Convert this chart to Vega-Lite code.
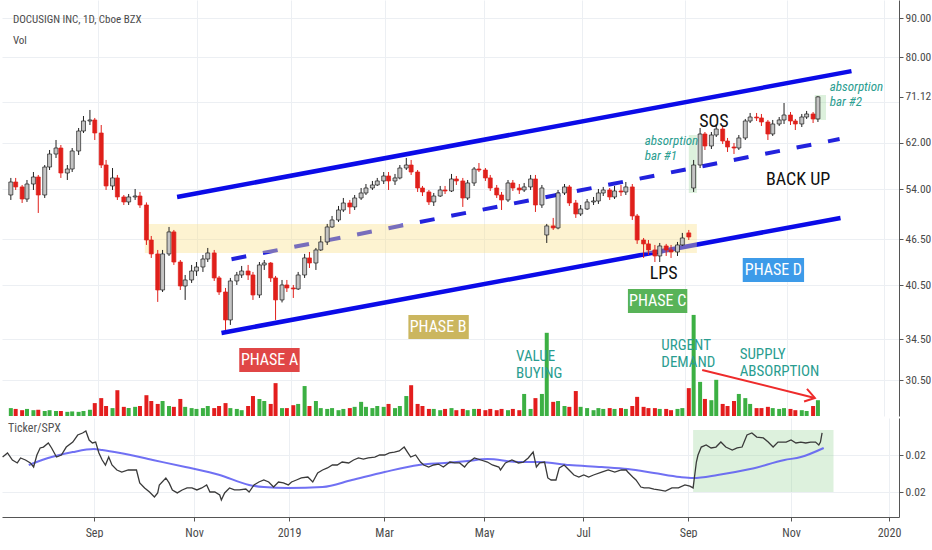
{
  "$schema": "https://vega.github.io/schema/vega-lite/v6.json",
  "description": "DOCUSIGN INC daily candles with Wyckoff phases and Ticker/SPX ratio",
  "padding": 0,
  "background": "white",
  "spacing": 2,
  "config": {
    "view": {"stroke": null},
    "font": "Roboto Condensed, Liberation Sans, sans-serif",
    "axis": {
      "labelFont": "Roboto Condensed, Liberation Sans, sans-serif",
      "labelFontSize": 11.5,
      "labelColor": "#4a4a4a",
      "gridColor": "#eceff3",
      "domainColor": "#555555",
      "tickColor": "#555555",
      "tickSize": 4
    }
  },
  "datasets": {
    "candles": [
      {"d": "2018-07-09", "o": 53.06, "h": 55.83, "l": 52.28, "c": 55.16, "v": 1.9},
      {"d": "2018-07-12", "o": 55.16, "h": 55.83, "l": 53.86, "c": 54.35, "v": 1.7},
      {"d": "2018-07-16", "o": 54.35, "h": 54.67, "l": 51.81, "c": 52.43, "v": 1.4},
      {"d": "2018-07-19", "o": 52.43, "h": 55.49, "l": 51.97, "c": 54.83, "v": 1.7},
      {"d": "2018-07-23", "o": 54.83, "h": 56.83, "l": 53.86, "c": 55.99, "v": 1.4},
      {"d": "2018-07-26", "o": 55.99, "h": 56.33, "l": 50.29, "c": 53.06, "v": 1.5},
      {"d": "2018-07-30", "o": 53.06, "h": 58.03, "l": 52.59, "c": 57.68, "v": 1.2},
      {"d": "2018-08-02", "o": 57.68, "h": 60.69, "l": 57.17, "c": 59.97, "v": 1.4},
      {"d": "2018-08-06", "o": 59.97, "h": 62.53, "l": 59.26, "c": 61.05, "v": 1.2},
      {"d": "2018-08-09", "o": 61.05, "h": 61.60, "l": 55.83, "c": 56.66, "v": 1.2},
      {"d": "2018-08-13", "o": 56.66, "h": 58.03, "l": 55.49, "c": 57.34, "v": 1.0},
      {"d": "2018-08-16", "o": 57.34, "h": 61.05, "l": 56.83, "c": 60.51, "v": 1.1},
      {"d": "2018-08-20", "o": 60.51, "h": 64.81, "l": 59.79, "c": 64.23, "v": 1.0},
      {"d": "2018-08-23", "o": 64.23, "h": 67.17, "l": 63.85, "c": 66.18, "v": 1.2},
      {"d": "2018-08-27", "o": 66.18, "h": 68.39, "l": 65.39, "c": 66.38, "v": 1.5},
      {"d": "2018-08-30", "o": 66.38, "h": 66.78, "l": 62.53, "c": 63.85, "v": 3.1},
      {"d": "2018-09-03", "o": 63.85, "h": 65.39, "l": 57.51, "c": 58.03, "v": 4.3},
      {"d": "2018-09-06", "o": 58.03, "h": 58.91, "l": 53.86, "c": 54.51, "v": 2.4},
      {"d": "2018-09-10", "o": 54.51, "h": 57.51, "l": 53.86, "c": 55.83, "v": 1.9},
      {"d": "2018-09-13", "o": 55.83, "h": 56.33, "l": 52.28, "c": 52.75, "v": 6.2},
      {"d": "2018-09-17", "o": 52.75, "h": 53.06, "l": 51.50, "c": 51.97, "v": 2.2},
      {"d": "2018-09-20", "o": 51.97, "h": 53.22, "l": 51.50, "c": 52.75, "v": 1.9},
      {"d": "2018-09-24", "o": 52.75, "h": 54.02, "l": 52.28, "c": 52.90, "v": 2.2},
      {"d": "2018-09-27", "o": 52.90, "h": 53.54, "l": 51.05, "c": 51.50, "v": 2.4},
      {"d": "2018-10-01", "o": 51.50, "h": 51.90, "l": 45.71, "c": 46.39, "v": 5.0},
      {"d": "2018-10-04", "o": 46.39, "h": 46.95, "l": 43.97, "c": 44.50, "v": 3.6},
      {"d": "2018-10-08", "o": 44.50, "h": 45.03, "l": 38.56, "c": 39.96, "v": 2.9},
      {"d": "2018-10-11", "o": 39.96, "h": 45.03, "l": 39.72, "c": 44.50, "v": 3.6},
      {"d": "2018-10-15", "o": 44.50, "h": 48.23, "l": 44.23, "c": 47.52, "v": 2.4},
      {"d": "2018-10-18", "o": 47.52, "h": 47.80, "l": 43.06, "c": 43.44, "v": 2.2},
      {"d": "2018-10-22", "o": 43.44, "h": 43.70, "l": 39.96, "c": 40.44, "v": 4.1},
      {"d": "2018-10-25", "o": 40.44, "h": 41.79, "l": 38.79, "c": 41.17, "v": 2.2},
      {"d": "2018-10-29", "o": 41.17, "h": 43.06, "l": 40.81, "c": 42.29, "v": 1.9},
      {"d": "2018-11-01", "o": 42.29, "h": 43.44, "l": 41.67, "c": 42.80, "v": 1.7},
      {"d": "2018-11-05", "o": 42.80, "h": 44.36, "l": 42.17, "c": 43.83, "v": 1.9},
      {"d": "2018-11-08", "o": 43.83, "h": 45.30, "l": 43.44, "c": 44.63, "v": 2.4},
      {"d": "2018-11-12", "o": 44.63, "h": 45.03, "l": 41.05, "c": 41.42, "v": 1.9},
      {"d": "2018-11-15", "o": 41.42, "h": 41.67, "l": 39.37, "c": 39.72, "v": 2.4},
      {"d": "2018-11-19", "o": 39.72, "h": 40.20, "l": 35.46, "c": 36.54, "v": 3.1},
      {"d": "2018-11-22", "o": 36.54, "h": 41.42, "l": 36.00, "c": 41.05, "v": 1.9},
      {"d": "2018-11-26", "o": 41.05, "h": 42.17, "l": 40.56, "c": 41.79, "v": 1.7},
      {"d": "2018-11-29", "o": 41.79, "h": 42.93, "l": 41.42, "c": 42.29, "v": 1.4},
      {"d": "2018-12-03", "o": 42.29, "h": 43.06, "l": 41.17, "c": 41.79, "v": 2.4},
      {"d": "2018-12-06", "o": 41.79, "h": 42.17, "l": 38.79, "c": 39.37, "v": 4.8},
      {"d": "2018-12-10", "o": 39.37, "h": 43.44, "l": 39.02, "c": 43.06, "v": 4.1},
      {"d": "2018-12-13", "o": 43.06, "h": 43.70, "l": 42.42, "c": 43.31, "v": 3.6},
      {"d": "2018-12-17", "o": 43.31, "h": 43.44, "l": 40.93, "c": 41.42, "v": 2.9},
      {"d": "2018-12-20", "o": 41.42, "h": 41.67, "l": 36.54, "c": 38.79, "v": 7.9},
      {"d": "2018-12-24", "o": 38.79, "h": 41.17, "l": 38.50, "c": 40.56, "v": 1.9},
      {"d": "2018-12-27", "o": 40.56, "h": 41.17, "l": 39.72, "c": 40.20, "v": 1.9},
      {"d": "2018-12-31", "o": 40.20, "h": 40.56, "l": 39.02, "c": 40.08, "v": 2.6},
      {"d": "2019-01-03", "o": 40.08, "h": 42.17, "l": 39.96, "c": 41.79, "v": 2.9},
      {"d": "2019-01-07", "o": 41.79, "h": 44.50, "l": 41.42, "c": 43.97, "v": 7.2},
      {"d": "2019-01-10", "o": 43.97, "h": 44.76, "l": 42.67, "c": 43.31, "v": 2.4},
      {"d": "2019-01-14", "o": 43.31, "h": 45.30, "l": 42.42, "c": 45.03, "v": 3.6},
      {"d": "2019-01-17", "o": 45.03, "h": 46.95, "l": 44.90, "c": 46.12, "v": 1.9},
      {"d": "2019-01-21", "o": 46.12, "h": 48.67, "l": 45.71, "c": 48.23, "v": 1.7},
      {"d": "2019-01-24", "o": 48.23, "h": 49.84, "l": 48.09, "c": 49.25, "v": 1.9},
      {"d": "2019-01-28", "o": 49.25, "h": 51.35, "l": 48.96, "c": 50.74, "v": 1.4},
      {"d": "2019-01-31", "o": 50.74, "h": 52.59, "l": 50.44, "c": 51.81, "v": 1.7},
      {"d": "2019-02-04", "o": 51.81, "h": 52.28, "l": 50.14, "c": 51.20, "v": 1.9},
      {"d": "2019-02-07", "o": 51.20, "h": 53.06, "l": 50.74, "c": 52.59, "v": 2.2},
      {"d": "2019-02-11", "o": 52.59, "h": 54.18, "l": 52.28, "c": 53.38, "v": 3.4},
      {"d": "2019-02-14", "o": 53.38, "h": 54.83, "l": 53.06, "c": 54.18, "v": 2.2},
      {"d": "2019-02-18", "o": 54.18, "h": 55.33, "l": 53.86, "c": 54.67, "v": 1.9},
      {"d": "2019-02-21", "o": 54.67, "h": 55.83, "l": 54.51, "c": 55.33, "v": 2.4},
      {"d": "2019-02-25", "o": 55.33, "h": 56.83, "l": 54.83, "c": 56.16, "v": 2.2},
      {"d": "2019-02-28", "o": 56.16, "h": 56.83, "l": 53.86, "c": 55.33, "v": 2.9},
      {"d": "2019-03-04", "o": 55.33, "h": 56.50, "l": 54.67, "c": 55.83, "v": 1.9},
      {"d": "2019-03-07", "o": 55.83, "h": 58.03, "l": 55.60, "c": 57.51, "v": 2.4},
      {"d": "2019-03-11", "o": 57.51, "h": 59.26, "l": 57.17, "c": 58.03, "v": 4.8},
      {"d": "2019-03-14", "o": 58.03, "h": 58.91, "l": 56.33, "c": 56.83, "v": 7.4},
      {"d": "2019-03-18", "o": 56.83, "h": 57.17, "l": 53.54, "c": 54.18, "v": 2.9},
      {"d": "2019-03-21", "o": 54.18, "h": 54.51, "l": 52.90, "c": 53.54, "v": 2.4},
      {"d": "2019-03-25", "o": 53.54, "h": 53.86, "l": 51.50, "c": 51.97, "v": 1.7},
      {"d": "2019-03-28", "o": 51.97, "h": 53.38, "l": 51.35, "c": 52.90, "v": 1.7},
      {"d": "2019-04-01", "o": 52.90, "h": 54.51, "l": 52.75, "c": 53.86, "v": 1.4},
      {"d": "2019-04-04", "o": 53.86, "h": 54.51, "l": 53.22, "c": 53.70, "v": 1.7},
      {"d": "2019-04-08", "o": 53.70, "h": 56.50, "l": 53.54, "c": 55.66, "v": 1.9},
      {"d": "2019-04-11", "o": 55.66, "h": 56.16, "l": 54.67, "c": 55.33, "v": 1.4},
      {"d": "2019-04-15", "o": 55.33, "h": 55.83, "l": 51.20, "c": 52.59, "v": 1.7},
      {"d": "2019-04-18", "o": 52.59, "h": 55.49, "l": 52.28, "c": 55.00, "v": 1.4},
      {"d": "2019-04-22", "o": 55.00, "h": 57.68, "l": 54.51, "c": 57.34, "v": 1.7},
      {"d": "2019-04-25", "o": 57.34, "h": 58.38, "l": 56.83, "c": 57.17, "v": 1.7},
      {"d": "2019-04-29", "o": 57.17, "h": 57.51, "l": 55.33, "c": 55.83, "v": 1.4},
      {"d": "2019-05-02", "o": 55.83, "h": 56.33, "l": 53.70, "c": 54.18, "v": 1.7},
      {"d": "2019-05-06", "o": 54.18, "h": 54.67, "l": 52.59, "c": 53.06, "v": 1.4},
      {"d": "2019-05-09", "o": 53.06, "h": 53.54, "l": 50.74, "c": 52.28, "v": 1.7},
      {"d": "2019-05-13", "o": 52.28, "h": 55.49, "l": 51.97, "c": 55.00, "v": 1.4},
      {"d": "2019-05-16", "o": 55.00, "h": 55.49, "l": 53.70, "c": 54.18, "v": 1.7},
      {"d": "2019-05-20", "o": 54.18, "h": 54.83, "l": 53.22, "c": 53.86, "v": 1.4},
      {"d": "2019-05-23", "o": 53.86, "h": 55.00, "l": 53.54, "c": 54.35, "v": 5.3},
      {"d": "2019-05-27", "o": 54.35, "h": 56.33, "l": 53.86, "c": 55.66, "v": 1.7},
      {"d": "2019-05-30", "o": 55.66, "h": 56.33, "l": 50.44, "c": 51.50, "v": 4.3},
      {"d": "2019-06-03", "o": 51.50, "h": 54.67, "l": 51.05, "c": 54.18, "v": 5.3},
      {"d": "2019-06-06", "o": 47.09, "h": 48.67, "l": 45.98, "c": 48.38, "v": 20.0},
      {"d": "2019-06-10", "o": 48.38, "h": 49.55, "l": 47.80, "c": 48.09, "v": 3.4},
      {"d": "2019-06-13", "o": 48.09, "h": 53.86, "l": 47.90, "c": 53.38, "v": 3.6},
      {"d": "2019-06-17", "o": 53.38, "h": 54.83, "l": 53.06, "c": 54.35, "v": 2.4},
      {"d": "2019-06-20", "o": 54.35, "h": 54.67, "l": 51.35, "c": 51.81, "v": 2.2},
      {"d": "2019-06-24", "o": 51.81, "h": 52.28, "l": 49.55, "c": 50.14, "v": 6.0},
      {"d": "2019-06-27", "o": 50.14, "h": 51.50, "l": 49.84, "c": 50.89, "v": 2.2},
      {"d": "2019-07-01", "o": 50.89, "h": 52.43, "l": 50.74, "c": 51.97, "v": 1.9},
      {"d": "2019-07-05", "o": 51.97, "h": 52.75, "l": 51.50, "c": 52.12, "v": 1.4},
      {"d": "2019-07-08", "o": 52.12, "h": 54.02, "l": 51.66, "c": 53.38, "v": 1.9},
      {"d": "2019-07-11", "o": 53.38, "h": 54.35, "l": 52.90, "c": 53.86, "v": 1.7},
      {"d": "2019-07-15", "o": 53.86, "h": 54.18, "l": 52.28, "c": 52.75, "v": 1.9},
      {"d": "2019-07-18", "o": 52.75, "h": 54.51, "l": 52.43, "c": 53.70, "v": 1.7},
      {"d": "2019-07-22", "o": 53.70, "h": 54.67, "l": 52.90, "c": 53.54, "v": 1.9},
      {"d": "2019-07-25", "o": 53.54, "h": 55.16, "l": 53.06, "c": 54.35, "v": 1.7},
      {"d": "2019-07-29", "o": 54.35, "h": 54.83, "l": 49.25, "c": 49.84, "v": 2.4},
      {"d": "2019-08-01", "o": 49.84, "h": 50.14, "l": 45.85, "c": 46.39, "v": 4.6},
      {"d": "2019-08-05", "o": 46.39, "h": 46.67, "l": 43.97, "c": 45.85, "v": 2.2},
      {"d": "2019-08-08", "o": 45.85, "h": 46.39, "l": 44.36, "c": 45.03, "v": 1.9},
      {"d": "2019-08-12", "o": 45.03, "h": 45.71, "l": 43.44, "c": 44.23, "v": 1.9},
      {"d": "2019-08-15", "o": 44.23, "h": 45.98, "l": 43.44, "c": 45.57, "v": 1.7},
      {"d": "2019-08-19", "o": 45.57, "h": 45.85, "l": 44.23, "c": 45.03, "v": 1.7},
      {"d": "2019-08-22", "o": 45.03, "h": 45.71, "l": 43.97, "c": 44.76, "v": 1.4},
      {"d": "2019-08-26", "o": 44.76, "h": 46.12, "l": 44.23, "c": 45.71, "v": 1.7},
      {"d": "2019-08-29", "o": 45.71, "h": 47.38, "l": 45.57, "c": 46.67, "v": 1.9},
      {"d": "2019-09-02", "o": 47.38, "h": 47.80, "l": 46.39, "c": 46.81, "v": 6.7},
      {"d": "2019-09-05", "o": 54.18, "h": 58.91, "l": 53.54, "c": 58.03, "v": 24.3},
      {"d": "2019-09-09", "o": 58.03, "h": 64.81, "l": 57.51, "c": 63.66, "v": 8.2},
      {"d": "2019-09-12", "o": 63.66, "h": 64.04, "l": 60.69, "c": 61.42, "v": 4.1},
      {"d": "2019-09-16", "o": 61.42, "h": 64.04, "l": 60.87, "c": 63.47, "v": 3.8},
      {"d": "2019-09-19", "o": 63.47, "h": 65.59, "l": 63.09, "c": 64.61, "v": 8.7},
      {"d": "2019-09-23", "o": 64.61, "h": 65.20, "l": 61.79, "c": 62.34, "v": 2.9},
      {"d": "2019-09-26", "o": 62.34, "h": 62.91, "l": 60.33, "c": 61.24, "v": 2.4},
      {"d": "2019-09-30", "o": 61.24, "h": 61.97, "l": 59.97, "c": 61.05, "v": 3.6},
      {"d": "2019-10-03", "o": 61.05, "h": 63.47, "l": 60.69, "c": 62.91, "v": 5.3},
      {"d": "2019-10-07", "o": 62.91, "h": 66.58, "l": 62.53, "c": 66.18, "v": 4.3},
      {"d": "2019-10-10", "o": 66.18, "h": 67.78, "l": 65.78, "c": 66.97, "v": 2.9},
      {"d": "2019-10-14", "o": 66.97, "h": 67.78, "l": 66.18, "c": 66.78, "v": 1.9},
      {"d": "2019-10-17", "o": 66.78, "h": 67.58, "l": 65.20, "c": 65.98, "v": 1.9},
      {"d": "2019-10-21", "o": 65.98, "h": 66.38, "l": 62.53, "c": 63.66, "v": 2.2},
      {"d": "2019-10-24", "o": 63.66, "h": 66.38, "l": 63.28, "c": 65.59, "v": 1.9},
      {"d": "2019-10-28", "o": 65.59, "h": 66.97, "l": 65.20, "c": 66.38, "v": 1.7},
      {"d": "2019-10-31", "o": 66.38, "h": 69.83, "l": 65.59, "c": 67.37, "v": 1.9},
      {"d": "2019-11-04", "o": 67.37, "h": 67.98, "l": 65.39, "c": 66.18, "v": 1.7},
      {"d": "2019-11-07", "o": 66.18, "h": 66.58, "l": 64.42, "c": 65.59, "v": 1.4},
      {"d": "2019-11-11", "o": 65.59, "h": 67.58, "l": 65.00, "c": 66.97, "v": 1.4},
      {"d": "2019-11-14", "o": 66.97, "h": 68.19, "l": 66.58, "c": 67.58, "v": 1.2},
      {"d": "2019-11-18", "o": 67.58, "h": 67.98, "l": 65.78, "c": 66.58, "v": 2.4},
      {"d": "2019-11-21", "o": 66.58, "h": 71.31, "l": 65.98, "c": 71.12, "v": 3.8}
    ],
    "channel": [
      {"g": "upper", "d": "2018-10-20", "p": 52.75},
      {"g": "upper", "d": "2019-12-11T19:00Z", "p": 76.8},
      {"g": "lower", "d": "2018-11-16T12:00Z", "p": 35.15},
      {"g": "lower", "d": "2019-12-05", "p": 49.55}
    ],
    "mid": [
      {"d": "2018-11-22T17:00Z", "p": 43.8},
      {"d": "2019-12-04T10:00Z", "p": 62.7}
    ],
    "zone": [
      {"d": "2018-09-30", "d2": "2019-09-07", "p": 48.67, "p2": 44.63}
    ],
    "absorb": [
      {"d": "2019-09-02", "d2": "2019-09-07", "p": 63.47, "p2": 53.38},
      {"d": "2019-11-19", "d2": "2019-11-26", "p": 71.52, "p2": 66.38}
    ],
    "phases": [
      {"t": "PHASE A", "d": "2018-11-27T12:00Z", "d2": "2019-01-03T22:00Z", "p": 33.61, "p2": 31.28, "dm": "2018-12-16T07:00Z", "pm": 32.43},
      {"t": "PHASE B", "d": "2019-03-12T07:00Z", "d2": "2019-04-18T17:00Z", "p": 37.09, "p2": 34.52, "dm": "2019-03-30T17:00Z", "pm": 35.79},
      {"t": "PHASE C", "d": "2019-07-26T07:00Z", "d2": "2019-09-01T02:00Z", "p": 40.08, "p2": 37.31, "dm": "2019-08-13T17:00Z", "pm": 38.67},
      {"t": "PHASE D", "d": "2019-10-05T10:00Z", "d2": "2019-11-12T10:00Z", "p": 43.97, "p2": 40.93, "dm": "2019-10-24T10:00Z", "pm": 42.42}
    ],
    "marks": [
      {"t": "SOS", "d": "2019-09-17T14:00Z", "p": 65.98},
      {"t": "BACK UP", "d": "2019-11-08T17:00Z", "p": 55.49},
      {"t": "LPS", "d": "2019-08-17T10:00Z", "p": 41.92}
    ],
    "notes": [
      {"t": "VALUE", "d": "2019-05-18", "p": 32.82},
      {"t": "BUYING", "d": "2019-05-18", "p": 31.19},
      {"t": "URGENT", "d": "2019-08-16", "p": 33.91},
      {"t": "DEMAND", "d": "2019-08-16", "p": 32.26},
      {"t": "SUPPLY", "d": "2019-10-03T12:00Z", "p": 33.02},
      {"t": "ABSORPTION", "d": "2019-10-03T12:00Z", "p": 31.38}
    ],
    "itals": [
      {"t": "absorption", "d": "2019-08-05T17:00Z", "p": 62.34},
      {"t": "bar #1", "d": "2019-08-05T17:00Z", "p": 59.70},
      {"t": "absorption", "d": "2019-11-28T07:00Z", "p": 73.14},
      {"t": "bar #2", "d": "2019-11-28T07:00Z", "p": 70.04}
    ],
    "head": [
      {"t": "DOCUSIGN INC, 1D, Cboe BZX", "d": "2018-07-10T07:00Z", "p": 89.46},
      {"t": "Vol", "d": "2018-07-10T07:00Z", "p": 84.0}
    ],
    "arrow": [
      {"g": "shaft", "o": 1, "d": "2019-09-10T07:00Z", "p": 31.47},
      {"g": "shaft", "o": 2, "d": "2019-11-19T02:00Z", "p": 28.95},
      {"g": "head", "o": 1, "d": "2019-11-14T05:00Z", "p": 29.74},
      {"g": "head", "o": 2, "d": "2019-11-19T02:00Z", "p": 28.95},
      {"g": "head", "o": 3, "d": "2019-11-12T10:00Z", "p": 28.65}
    ],
    "ratio": [
      {"d": "2018-07-07", "r": 0.02189}, {"d": "2018-07-10", "r": 0.02211}, {"d": "2018-07-13", "r": 0.02173},
      {"d": "2018-07-16", "r": 0.02157}, {"d": "2018-07-18", "r": 0.02184}, {"d": "2018-07-21", "r": 0.02173},
      {"d": "2018-07-24", "r": 0.02157}, {"d": "2018-07-26", "r": 0.02135}, {"d": "2018-07-28", "r": 0.02200},
      {"d": "2018-07-30", "r": 0.02238}, {"d": "2018-08-01", "r": 0.02243}, {"d": "2018-08-04", "r": 0.02265},
      {"d": "2018-08-06", "r": 0.02238}, {"d": "2018-08-09", "r": 0.02189}, {"d": "2018-08-12", "r": 0.02200},
      {"d": "2018-08-15", "r": 0.02243}, {"d": "2018-08-19", "r": 0.02270}, {"d": "2018-08-22", "r": 0.02308},
      {"d": "2018-08-25", "r": 0.02319}, {"d": "2018-08-27", "r": 0.02330}, {"d": "2018-08-29", "r": 0.02281},
      {"d": "2018-08-31", "r": 0.02265}, {"d": "2018-09-02", "r": 0.02270}, {"d": "2018-09-04", "r": 0.02211},
      {"d": "2018-09-06", "r": 0.02173}, {"d": "2018-09-08", "r": 0.02146}, {"d": "2018-09-10", "r": 0.02189},
      {"d": "2018-09-12", "r": 0.02146}, {"d": "2018-09-15", "r": 0.02119}, {"d": "2018-09-18", "r": 0.02108},
      {"d": "2018-09-22", "r": 0.02119}, {"d": "2018-09-27", "r": 0.02119}, {"d": "2018-09-29", "r": 0.02049},
      {"d": "2018-10-02", "r": 0.02022}, {"d": "2018-10-05", "r": 0.02000}, {"d": "2018-10-08", "r": 0.01973},
      {"d": "2018-10-10", "r": 0.01995}, {"d": "2018-10-11", "r": 0.02038}, {"d": "2018-10-15", "r": 0.02076},
      {"d": "2018-10-17", "r": 0.02049}, {"d": "2018-10-19", "r": 0.02011}, {"d": "2018-10-22", "r": 0.01995},
      {"d": "2018-10-25", "r": 0.02011}, {"d": "2018-10-28", "r": 0.02022}, {"d": "2018-10-31", "r": 0.02022},
      {"d": "2018-11-03", "r": 0.02011}, {"d": "2018-11-06", "r": 0.02022}, {"d": "2018-11-09", "r": 0.02038},
      {"d": "2018-11-11", "r": 0.02000}, {"d": "2018-11-14", "r": 0.02000}, {"d": "2018-11-17", "r": 0.01984},
      {"d": "2018-11-18", "r": 0.01957}, {"d": "2018-11-20", "r": 0.01995}, {"d": "2018-11-23", "r": 0.02022},
      {"d": "2018-11-26", "r": 0.02011}, {"d": "2018-11-29", "r": 0.02011}, {"d": "2018-12-03", "r": 0.02016},
      {"d": "2018-12-05", "r": 0.02000}, {"d": "2018-12-08", "r": 0.02038}, {"d": "2018-12-11", "r": 0.02054},
      {"d": "2018-12-14", "r": 0.02065}, {"d": "2018-12-17", "r": 0.02054}, {"d": "2018-12-20", "r": 0.02027},
      {"d": "2018-12-23", "r": 0.02054}, {"d": "2018-12-26", "r": 0.02049}, {"d": "2018-12-29", "r": 0.02038},
      {"d": "2018-12-31", "r": 0.02054}, {"d": "2019-01-03", "r": 0.02065}, {"d": "2019-01-06", "r": 0.02076},
      {"d": "2019-01-10", "r": 0.02081}, {"d": "2019-01-13", "r": 0.02054}, {"d": "2019-01-16", "r": 0.02103},
      {"d": "2019-01-19", "r": 0.02119}, {"d": "2019-01-22", "r": 0.02130}, {"d": "2019-01-25", "r": 0.02146},
      {"d": "2019-01-28", "r": 0.02146}, {"d": "2019-01-31", "r": 0.02162}, {"d": "2019-02-04", "r": 0.02157},
      {"d": "2019-02-07", "r": 0.02173}, {"d": "2019-02-10", "r": 0.02184}, {"d": "2019-02-13", "r": 0.02178},
      {"d": "2019-02-16", "r": 0.02184}, {"d": "2019-02-20", "r": 0.02189}, {"d": "2019-02-23", "r": 0.02200},
      {"d": "2019-02-26", "r": 0.02200}, {"d": "2019-03-01", "r": 0.02211}, {"d": "2019-03-04", "r": 0.02216},
      {"d": "2019-03-07", "r": 0.02222}, {"d": "2019-03-10", "r": 0.02243}, {"d": "2019-03-12", "r": 0.02216},
      {"d": "2019-03-14", "r": 0.02189}, {"d": "2019-03-17", "r": 0.02200}, {"d": "2019-03-20", "r": 0.02162},
      {"d": "2019-03-22", "r": 0.02146}, {"d": "2019-03-25", "r": 0.02135}, {"d": "2019-03-28", "r": 0.02146},
      {"d": "2019-03-31", "r": 0.02151}, {"d": "2019-04-03", "r": 0.02135}, {"d": "2019-04-07", "r": 0.02162},
      {"d": "2019-04-10", "r": 0.02157}, {"d": "2019-04-13", "r": 0.02157}, {"d": "2019-04-16", "r": 0.02135},
      {"d": "2019-04-18", "r": 0.02157}, {"d": "2019-04-22", "r": 0.02184}, {"d": "2019-04-26", "r": 0.02173},
      {"d": "2019-04-30", "r": 0.02162}, {"d": "2019-05-03", "r": 0.02146}, {"d": "2019-05-07", "r": 0.02135},
      {"d": "2019-05-08", "r": 0.02119}, {"d": "2019-05-11", "r": 0.02157}, {"d": "2019-05-15", "r": 0.02173},
      {"d": "2019-05-19", "r": 0.02157}, {"d": "2019-05-22", "r": 0.02162}, {"d": "2019-05-25", "r": 0.02184},
      {"d": "2019-05-28", "r": 0.02216}, {"d": "2019-05-30", "r": 0.02135}, {"d": "2019-06-01", "r": 0.02157},
      {"d": "2019-06-04", "r": 0.02162}, {"d": "2019-06-06", "r": 0.02076}, {"d": "2019-06-08", "r": 0.02065},
      {"d": "2019-06-11", "r": 0.02065}, {"d": "2019-06-13", "r": 0.02130}, {"d": "2019-06-16", "r": 0.02146},
      {"d": "2019-06-19", "r": 0.02119}, {"d": "2019-06-22", "r": 0.02092}, {"d": "2019-06-25", "r": 0.02081},
      {"d": "2019-06-28", "r": 0.02092}, {"d": "2019-07-01", "r": 0.02081}, {"d": "2019-07-04", "r": 0.02092},
      {"d": "2019-07-09", "r": 0.02108}, {"d": "2019-07-13", "r": 0.02119}, {"d": "2019-07-17", "r": 0.02108},
      {"d": "2019-07-21", "r": 0.02119}, {"d": "2019-07-24", "r": 0.02119}, {"d": "2019-07-25", "r": 0.02108},
      {"d": "2019-07-28", "r": 0.02081}, {"d": "2019-07-30", "r": 0.02065}, {"d": "2019-08-02", "r": 0.02027},
      {"d": "2019-08-04", "r": 0.02022}, {"d": "2019-08-07", "r": 0.02022}, {"d": "2019-08-10", "r": 0.02016},
      {"d": "2019-08-13", "r": 0.02011}, {"d": "2019-08-17", "r": 0.02005}, {"d": "2019-08-21", "r": 0.02022},
      {"d": "2019-08-25", "r": 0.02022}, {"d": "2019-08-29", "r": 0.02038}, {"d": "2019-09-01", "r": 0.02032},
      {"d": "2019-09-03", "r": 0.02022}, {"d": "2019-09-05", "r": 0.02162}, {"d": "2019-09-06", "r": 0.02200},
      {"d": "2019-09-08", "r": 0.02243}, {"d": "2019-09-11", "r": 0.02254}, {"d": "2019-09-14", "r": 0.02238},
      {"d": "2019-09-17", "r": 0.02243}, {"d": "2019-09-20", "r": 0.02270}, {"d": "2019-09-23", "r": 0.02243},
      {"d": "2019-09-27", "r": 0.02227}, {"d": "2019-09-30", "r": 0.02238}, {"d": "2019-10-03", "r": 0.02243},
      {"d": "2019-10-06", "r": 0.02308}, {"d": "2019-10-09", "r": 0.02319}, {"d": "2019-10-12", "r": 0.02297},
      {"d": "2019-10-16", "r": 0.02292}, {"d": "2019-10-19", "r": 0.02270}, {"d": "2019-10-22", "r": 0.02243},
      {"d": "2019-10-25", "r": 0.02270}, {"d": "2019-10-30", "r": 0.02270}, {"d": "2019-11-02", "r": 0.02281},
      {"d": "2019-11-05", "r": 0.02265}, {"d": "2019-11-08", "r": 0.02270}, {"d": "2019-11-11", "r": 0.02265},
      {"d": "2019-11-14", "r": 0.02270}, {"d": "2019-11-17", "r": 0.02270}, {"d": "2019-11-19", "r": 0.02254},
      {"d": "2019-11-20", "r": 0.02270}, {"d": "2019-11-21", "r": 0.02319}
    ],
    "ma": [
      {"d": "2018-07-23", "r": 0.02146}, {"d": "2018-08-06", "r": 0.02189}, {"d": "2018-08-19", "r": 0.02216},
      {"d": "2018-09-01", "r": 0.02232}, {"d": "2018-09-06", "r": 0.02227}, {"d": "2018-09-17", "r": 0.02211},
      {"d": "2018-10-07", "r": 0.02173}, {"d": "2018-10-27", "r": 0.02135}, {"d": "2018-11-17", "r": 0.02092},
      {"d": "2018-12-05", "r": 0.02038}, {"d": "2018-12-14", "r": 0.02027}, {"d": "2018-12-29", "r": 0.02022},
      {"d": "2019-01-19", "r": 0.02027}, {"d": "2019-02-06", "r": 0.02065}, {"d": "2019-02-26", "r": 0.02108},
      {"d": "2019-03-19", "r": 0.02146}, {"d": "2019-04-04", "r": 0.02157}, {"d": "2019-04-18", "r": 0.02168},
      {"d": "2019-04-30", "r": 0.02178}, {"d": "2019-05-19", "r": 0.02162}, {"d": "2019-06-01", "r": 0.02162},
      {"d": "2019-06-19", "r": 0.02146}, {"d": "2019-07-09", "r": 0.02135}, {"d": "2019-07-25", "r": 0.02124},
      {"d": "2019-08-10", "r": 0.02103}, {"d": "2019-08-26", "r": 0.02081}, {"d": "2019-09-03", "r": 0.02076},
      {"d": "2019-09-18", "r": 0.02092}, {"d": "2019-10-08", "r": 0.02124}, {"d": "2019-10-29", "r": 0.02173},
      {"d": "2019-11-08", "r": 0.02189}, {"d": "2019-11-22", "r": 0.02238}
    ],
    "spxbox": [
      {"d": "2019-09-03", "d2": "2019-11-28", "r": 0.02335, "r2": 0.02000}
    ],
    "spxlabel": [
      {"t": "Ticker/SPX", "d": "2018-07-10T07:00Z", "r": 0.02346}
    ]
  },
  "resolve": {"scale": {"x": "independent"}},
  "vconcat": [
    {
      "width": 897,
      "height": 416,
      "encoding": {
        "x": {
          "field": "d",
          "type": "temporal",
          "title": null,
          "scale": {
            "type": "utc",
            "domain": [
              {"year": 2018, "month": 7, "date": 6, "hours": 15, "utc": true},
              {"year": 2020, "month": 1, "date": 7, "hours": 3, "utc": true}
            ]
          },
          "axis": {
            "values": [
              {"year": 2018, "month": 9, "date": 1, "utc": true},
              {"year": 2018, "month": 11, "date": 1, "hours": 6, "utc": true},
              {"year": 2018, "month": 12, "date": 29, "hours": 11, "utc": true},
              {"year": 2019, "month": 2, "date": 25, "hours": 16, "utc": true},
              {"year": 2019, "month": 4, "date": 27, "hours": 22, "utc": true},
              {"year": 2019, "month": 6, "date": 27, "hours": 14, "utc": true},
              {"year": 2019, "month": 8, "date": 30, "hours": 22, "utc": true},
              {"year": 2019, "month": 11, "date": 2, "utc": true},
              {"year": 2020, "month": 1, "date": 1, "utc": true}
            ],
            "labels": false,
            "ticks": false,
            "domain": false,
            "grid": true,
            "title": null
          }
        }
      },
      "resolve": {"scale": {"y": "independent"}},
      "layer": [
        {
          "data": {"name": "candles"},
          "mark": {"type": "bar", "size": 4},
          "encoding": {
            "y": {"field": "v", "type": "quantitative", "scale": {"domain": [0, 100]}, "axis": null},
            "color": {"condition": {"test": "datum.c >= datum.o", "value": "#3cb043"}, "value": "#e31d1d"}
          }
        },
        {
          "layer": [
            {
              "data": {"name": "absorb"},
              "mark": {"type": "rect", "fill": "#8fd18f", "opacity": 0.3},
              "encoding": {
                "x2": {"field": "d2"},
                "y": {
                  "field": "p",
                  "type": "quantitative",
                  "title": null,
                  "scale": {"type": "log", "domain": [27.43, 94.97], "nice": false},
                  "axis": {
                    "orient": "right",
                    "title": null,
                    "values": [30.5, 34.5, 40.5, 46.5, 54, 62, 70, 71.12, 80, 90],
                    "labelExpr": "datum.value == 70 ? '' : format(datum.value, '.2f')",
                    "labelPadding": 2,
                    "grid": true,
                    "gridColor": {"condition": {"test": "datum.value == 71.12", "value": "transparent"}, "value": "#eceff3"},
                    "tickColor": {"condition": {"test": "datum.value == 70", "value": "transparent"}, "value": "#555555"}
                  }
                },
                "y2": {"field": "p2"}
              }
            },
            {
              "data": {"name": "channel"},
              "mark": {"type": "line", "color": "#0b0be8", "strokeWidth": 4.5},
              "encoding": {
                "y": {"field": "p", "type": "quantitative", "title": null},
                "detail": {"field": "g"}
              }
            },
            {
              "data": {"name": "mid"},
              "mark": {"type": "line", "color": "#2222dd", "strokeWidth": 4, "strokeDash": [15, 17]},
              "encoding": {
                "y": {"field": "p", "type": "quantitative", "title": null}
              }
            },
            {
              "data": {"name": "zone"},
              "mark": {"type": "rect", "fill": "#f9e28c", "opacity": 0.4},
              "encoding": {
                "x2": {"field": "d2"},
                "y": {"field": "p", "type": "quantitative", "title": null},
                "y2": {"field": "p2"}
              }
            },
            {
              "data": {"name": "candles"},
              "mark": {"type": "rule", "strokeWidth": 1},
              "encoding": {
                "y": {"field": "l", "type": "quantitative", "title": null},
                "y2": {"field": "h"},
                "color": {"condition": {"test": "datum.c >= datum.o", "value": "#222222"}, "value": "#e0201b"}
              }
            },
            {
              "data": {"name": "candles"},
              "mark": {"type": "bar", "size": 4, "strokeWidth": 0.7},
              "encoding": {
                "y": {"field": "o", "type": "quantitative", "title": null},
                "y2": {"field": "c"},
                "color": {"condition": {"test": "datum.c >= datum.o", "value": "#c4c4c4"}, "value": "#e0201b"},
                "stroke": {"condition": {"test": "datum.c >= datum.o", "value": "#1e1e1e"}, "value": "#e0201b"}
              }
            },
            {
              "data": {"name": "phases"},
              "mark": {"type": "rect"},
              "encoding": {
                "x2": {"field": "d2"},
                "y": {"field": "p", "type": "quantitative", "title": null},
                "y2": {"field": "p2"},
                "color": {
                  "field": "t",
                  "type": "nominal",
                  "legend": null,
                  "scale": {
                    "domain": ["PHASE A", "PHASE B", "PHASE C", "PHASE D"],
                    "range": ["#e04646", "#cbb65f", "#58b358", "#3d9be9"]
                  }
                }
              }
            },
            {
              "data": {"name": "phases"},
              "mark": {"type": "text", "color": "white", "fontSize": 16, "baseline": "middle", "align": "center"},
              "encoding": {
                "x": {"field": "dm", "type": "temporal", "title": null},
                "y": {"field": "pm", "type": "quantitative", "title": null},
                "text": {"field": "t"}
              }
            },
            {
              "data": {"name": "marks"},
              "mark": {"type": "text", "color": "#111111", "fontSize": 18, "baseline": "middle", "align": "center"},
              "encoding": {
                "y": {"field": "p", "type": "quantitative", "title": null},
                "text": {"field": "t"}
              }
            },
            {
              "data": {"name": "notes"},
              "mark": {"type": "text", "color": "#2a9d90", "fontSize": 15, "baseline": "middle", "align": "left"},
              "encoding": {
                "y": {"field": "p", "type": "quantitative", "title": null},
                "text": {"field": "t"}
              }
            },
            {
              "data": {"name": "itals"},
              "mark": {"type": "text", "color": "#2a9d90", "fontSize": 13, "fontStyle": "italic", "baseline": "middle", "align": "left"},
              "encoding": {
                "y": {"field": "p", "type": "quantitative", "title": null},
                "text": {"field": "t"}
              }
            },
            {
              "data": {"name": "head"},
              "mark": {"type": "text", "color": "#4a4a4a", "fontSize": 11, "baseline": "middle", "align": "left"},
              "encoding": {
                "y": {"field": "p", "type": "quantitative", "title": null},
                "text": {"field": "t"}
              }
            },
            {
              "data": {"name": "arrow"},
              "mark": {"type": "line", "color": "#ee2b2b", "strokeWidth": 2},
              "encoding": {
                "y": {"field": "p", "type": "quantitative", "title": null},
                "detail": {"field": "g"},
                "order": {"field": "o"}
              }
            }
          ]
        }
      ]
    },
    {
      "width": 897,
      "height": 99,
      "encoding": {
        "x": {
          "field": "d",
          "type": "temporal",
          "title": null,
          "scale": {
            "type": "utc",
            "domain": [
              {"year": 2018, "month": 7, "date": 6, "hours": 15, "utc": true},
              {"year": 2020, "month": 1, "date": 7, "hours": 3, "utc": true}
            ]
          },
          "axis": {
            "values": [
              {"year": 2018, "month": 9, "date": 1, "utc": true},
              {"year": 2018, "month": 11, "date": 1, "hours": 6, "utc": true},
              {"year": 2018, "month": 12, "date": 29, "hours": 11, "utc": true},
              {"year": 2019, "month": 2, "date": 25, "hours": 16, "utc": true},
              {"year": 2019, "month": 4, "date": 27, "hours": 22, "utc": true},
              {"year": 2019, "month": 6, "date": 27, "hours": 14, "utc": true},
              {"year": 2019, "month": 8, "date": 30, "hours": 22, "utc": true},
              {"year": 2019, "month": 11, "date": 2, "utc": true},
              {"year": 2020, "month": 1, "date": 1, "utc": true}
            ],
            "labelExpr": "utcmonth(time(datum.value) + 345600000) == 0 ? utcFormat(time(datum.value) + 345600000, '%Y') : utcFormat(time(datum.value) + 345600000, '%b')",
            "labelPadding": 6,
            "labelFontSize": 12,
            "grid": true,
            "title": null
          }
        }
      },
      "layer": [
        {
          "data": {"name": "spxbox"},
          "mark": {"type": "rect", "fill": "#8fd18f", "opacity": 0.3},
          "encoding": {
            "x2": {"field": "d2"},
            "y": {
              "field": "r",
              "type": "quantitative",
              "title": null,
              "scale": {"domain": [0.018649, 0.024], "nice": false, "zero": false},
              "axis": {"orient": "right", "title": null, "values": [0.02, 0.022], "format": ".2f", "grid": true, "labelPadding": 2}
            },
            "y2": {"field": "r2"}
          }
        },
        {
          "data": {"name": "ma"},
          "mark": {"type": "line", "color": "#6060f2", "strokeWidth": 2, "interpolate": "monotone", "opacity": 0.9},
          "encoding": {"y": {"field": "r", "type": "quantitative", "title": null}}
        },
        {
          "data": {"name": "ratio"},
          "mark": {"type": "line", "color": "#3a3a3a", "strokeWidth": 1.3},
          "encoding": {"y": {"field": "r", "type": "quantitative", "title": null}}
        },
        {
          "data": {"name": "spxlabel"},
          "mark": {"type": "text", "color": "#555555", "fontSize": 12, "align": "left", "baseline": "middle"},
          "encoding": {
            "y": {"field": "r", "type": "quantitative", "title": null},
            "text": {"field": "t"}
          }
        }
      ]
    }
  ]
}
